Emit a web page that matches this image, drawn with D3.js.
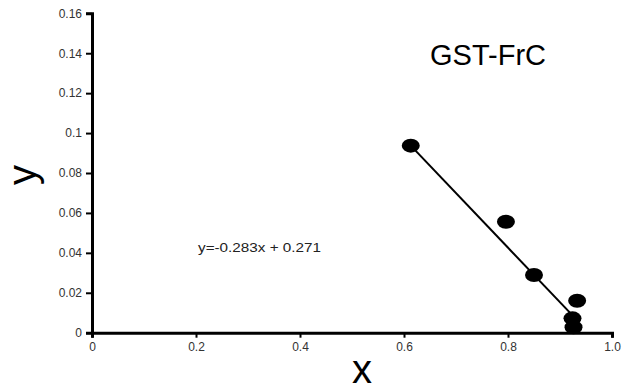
<!DOCTYPE html>
<html><head><meta charset="utf-8">
<script src="https://cdn.jsdelivr.net/npm/d3@7"></script>
<style>
html,body{margin:0;padding:0;background:#fff;}
svg{display:block;}
text{font-family:"Liberation Sans",Arial,sans-serif;}
</style></head>
<body>
<svg id="chart" width="624" height="392"></svg>
<script>
// Data
const pointX = [0.613, 0.796, 0.850, 0.933, 0.924, 0.926];
const pointY = [0.0937, 0.0556, 0.0289, 0.0160, 0.0072, 0.0027];
const fitX = [0.613, 0.925];
const fitY = [0.0937, 0.0084];
const xTicks = [0, 0.2, 0.4, 0.6, 0.8, 1.0];
const xTickLabels = ["0", "0.2", "0.4", "0.6", "0.8", "1.0"];
const yTicks = [0, 0.02, 0.04, 0.06, 0.08, 0.10, 0.12, 0.14, 0.16];
const yTickLabels = ["0", "0.02", "0.04", "0.06", "0.08", "0.1", "0.12", "0.14", "0.16"];
const titleText = "GST-FrC";
const equationText = "y=-0.283x + 0.271";
const xLabel = "x";
const yLabel = "y";

const svg = d3.select("#chart");
const x = d3.scaleLinear().domain([0, 1]).range([92, 612]);
const y = d3.scaleLinear().domain([0, 0.16]).range([332.7, 13.3]);

// X axis
const gx = svg.append("g").attr("transform", `translate(0,${y(0)})`)
  .call(d3.axisBottom(x).tickValues(xTicks).tickFormat((d, i) => xTickLabels[i]).tickSizeOuter(0).tickSize(5).tickPadding(5));
gx.select(".domain").attr("stroke", "#000").attr("stroke-width", 3);
gx.selectAll(".tick line").attr("stroke", "#000").attr("stroke-width", 2);
gx.selectAll(".tick text").attr("font-size", 12).attr("fill", "#333")
  .attr("font-family", "Liberation Sans, Arial, sans-serif");

// Y axis
const gy = svg.append("g").attr("transform", `translate(${x(0)},0)`)
  .call(d3.axisLeft(y).tickValues(yTicks).tickFormat((d, i) => yTickLabels[i]).tickSizeOuter(0).tickSize(6).tickPadding(4));
gy.select(".domain").attr("stroke", "#000").attr("stroke-width", 3);
gy.selectAll(".tick line").attr("stroke", "#000").attr("stroke-width", 2);
gy.selectAll(".tick text").attr("font-size", 12).attr("fill", "#333")
  .attr("font-family", "Liberation Sans, Arial, sans-serif");

// Fit line
svg.append("path")
  .datum(fitX.map((v, i) => [v, fitY[i]]))
  .attr("fill", "none").attr("stroke", "#000").attr("stroke-width", 2)
  .attr("d", d3.line().x(d => x(d[0])).y(d => y(d[1])));

// Points
svg.append("g").selectAll("ellipse")
  .data(pointX.map((v, i) => [v, pointY[i]]))
  .join("ellipse")
  .attr("cx", d => x(d[0])).attr("cy", d => y(d[1]))
  .attr("rx", 9).attr("ry", 7).attr("fill", "#000");

// Title
svg.append("text").attr("x", 430).attr("y", 65).attr("font-size", 29).attr("fill", "#000")
  .text(titleText);

// Equation
svg.append("text").attr("x", 198).attr("y", 252).attr("font-size", 12.5).attr("fill", "#222")
  .attr("textLength", 123).attr("lengthAdjust", "spacingAndGlyphs")
  .text(equationText);

// Axis labels
svg.append("text").attr("x", 362).attr("y", 383).attr("text-anchor", "middle")
  .attr("font-size", 40).attr("fill", "#000").text(xLabel);
svg.append("text").attr("transform", "translate(36,175) rotate(-90)").attr("text-anchor", "middle")
  .attr("font-size", 40).attr("fill", "#000").text(yLabel);
</script>
</body></html>
